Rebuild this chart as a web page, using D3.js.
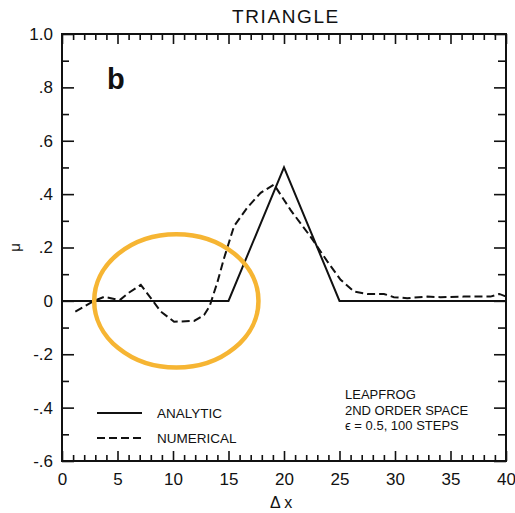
<!DOCTYPE html>
<html>
<head>
<meta charset="utf-8">
<style>
body { margin: 0; background: #fff; }
text { font-family: "Liberation Sans", Arial, sans-serif; fill: #111; }
</style>
</head>
<body></body>

<script src="https://d3js.org/d3.v7.min.js"></script>

<script>

// analytic solution (triangle)
var analyticX = [0, 15, 20, 25, 40];
var analyticY = [0, 0, 0.5, 0, 0];

// numerical solution (leapfrog)
var numericalX = [1.2, 2.9, 3.8, 4.4, 5.2, 6.0, 7.1, 7.9, 8.9, 10.1, 11.9, 12.8, 13.3, 14.0, 14.6, 15.5, 16.7, 17.9, 19.1, 20.6, 22.4, 23.9, 25.1, 26.3, 27.5, 29.0, 29.9, 31.1, 32.9, 34.1, 36.2, 38.6, 39.4, 40];
var numericalY = [-0.04, 0.0, 0.015, 0.01, 0.003, 0.03, 0.06, 0.016, -0.04, -0.078, -0.075, -0.053, -0.02, 0.07, 0.16, 0.28, 0.35, 0.405, 0.436, 0.34, 0.24, 0.148, 0.079, 0.035, 0.026, 0.026, 0.014, 0.01, 0.016, 0.014, 0.016, 0.016, 0.026, 0.016];

var xTickValues = [0, 5, 10, 15, 20, 25, 30, 35, 40];
var xTickLabels = ["0", "5", "10", "15", "20", "25", "30", "35", "40"];
var yTickValues = [-0.6, -0.4, -0.2, 0, 0.2, 0.4, 0.6, 0.8, 1.0];
var yTickLabels = ["-.6", "-.4", "-.2", "0", ".2", ".4", ".6", ".8", "1.0"];

var legendLabels = ["ANALYTIC", "NUMERICAL"];
var noteLines = ["LEAPFROG", "2ND ORDER SPACE", "\u03F5 = 0.5, 100 STEPS"];

// highlighted region (data units): centre x, centre y, half width, half height
var circleMark = [10.3, 0.0, 7.4, 0.25];

var margin = {top: 34, right: 9, bottom: 52, left: 62}
	, width = 515 - margin.left - margin.right
	, height = 513 - margin.top - margin.bottom;

var xScale = d3.scaleLinear().domain([0, 40]).range([0, width]);
var yScale = d3.scaleLinear().domain([-0.6, 1.0]).range([height, 0]);

var svg = d3.select("body").append("svg")
	.attr("width", 515)
	.attr("height", 513)
  .append("g")
	.attr("transform", "translate(" + margin.left + "," + margin.top + ")");

var xMinor = d3.range(0, 41).filter(d => d % 5 != 0);
var yMinor = [-0.5, -0.3, -0.1, 0.1, 0.3, 0.5, 0.7, 0.9];

function styleAxis(g) {
	g.select(".domain").remove();
	g.selectAll("line").attr("stroke", "#111").attr("stroke-width", 1.6);
	g.selectAll("text").attr("font-size", 17).attr("font-family", "Liberation Sans, Arial, sans-serif").attr("fill", "#111");
}

// bottom
svg.append("g").attr("transform", "translate(0," + height + ")")
	.call(d3.axisBottom(xScale).tickValues(xTickValues).tickSize(-10).tickPadding(12)
		.tickFormat((d, i) => xTickLabels[i]))
	.call(styleAxis);
svg.append("g").attr("transform", "translate(0," + height + ")")
	.call(d3.axisBottom(xScale).tickValues(xMinor).tickSize(-6).tickFormat(""))
	.call(styleAxis);

// top
svg.append("g")
	.call(d3.axisTop(xScale).tickValues(xTickValues).tickSize(-10).tickFormat(""))
	.call(styleAxis);
svg.append("g")
	.call(d3.axisTop(xScale).tickValues(xMinor).tickSize(-6).tickFormat(""))
	.call(styleAxis);

// left
svg.append("g")
	.call(d3.axisLeft(yScale).tickValues(yTickValues).tickSize(-12).tickPadding(9)
		.tickFormat((d, i) => yTickLabels[i]))
	.call(styleAxis);
svg.append("g")
	.call(d3.axisLeft(yScale).tickValues(yMinor).tickSize(-7).tickFormat(""))
	.call(styleAxis);

// right
svg.append("g").attr("transform", "translate(" + width + ",0)")
	.call(d3.axisRight(yScale).tickValues(yTickValues).tickSize(-12).tickFormat(""))
	.call(styleAxis);
svg.append("g").attr("transform", "translate(" + width + ",0)")
	.call(d3.axisRight(yScale).tickValues(yMinor).tickSize(-8).tickFormat(""))
	.call(styleAxis);

// frame
svg.append("rect")
	.attr("x", 0).attr("y", 0)
	.attr("width", width).attr("height", height)
	.attr("fill", "none")
	.attr("stroke", "#111")
	.attr("stroke-width", 2);

var line = d3.line()
	.x(d => xScale(d[0]))
	.y(d => yScale(d[1]));

svg.append("path")
	.datum(analyticX.map((x, i) => [x, analyticY[i]]))
	.attr("fill", "none")
	.attr("stroke", "#111")
	.attr("stroke-width", 2)
	.attr("d", line);

svg.append("path")
	.datum(numericalX.map((x, i) => [x, numericalY[i]]))
	.attr("fill", "none")
	.attr("stroke", "#111")
	.attr("stroke-width", 2)
	.attr("stroke-dasharray", "8,4")
	.attr("d", line);

// legend
svg.append("g").selectAll("line")
	.data(legendLabels)
  .enter().append("line")
	.attr("x1", 35).attr("x2", 80)
	.attr("y1", (d, i) => 379 + i * 25)
	.attr("y2", (d, i) => 379 + i * 25)
	.attr("stroke", "#111")
	.attr("stroke-width", 2)
	.attr("stroke-dasharray", (d, i) => i ? "8,4" : null);

svg.append("g").selectAll("text")
	.data(legendLabels)
  .enter().append("text")
	.attr("x", 95)
	.attr("y", (d, i) => 384 + i * 25)
	.attr("font-size", 13.5)
	.text(d => d);

// run notes
svg.append("g").selectAll("text")
	.data(noteLines)
  .enter().append("text")
	.attr("x", 283)
	.attr("y", (d, i) => 365 + i * 15.5)
	.attr("font-size", 13)
	.text(d => d);

// panel letter
svg.append("text")
	.attr("x", 45)
	.attr("y", 55)
	.attr("font-size", 29)
	.attr("font-weight", "bold")
	.text("b");

// title
svg.append("text")
	.attr("x", width / 2 + 2)
	.attr("y", -11)
	.attr("text-anchor", "middle")
	.attr("font-size", 19)
	.attr("letter-spacing", 1.6)
	.text("TRIANGLE");

// axis titles
svg.append("text")
	.attr("x", 208)
	.attr("y", height + 47)
	.attr("font-size", 16)
	.text("\u0394 x");

svg.append("text")
	.attr("transform", "translate(-42," + yScale(0.2) + ") rotate(-90)")
	.attr("text-anchor", "middle")
	.attr("font-size", 15)
	.text("\u03BC");

// highlight ellipse
svg.append("ellipse")
	.attr("cx", xScale(circleMark[0]))
	.attr("cy", yScale(circleMark[1]))
	.attr("rx", xScale(circleMark[2]) - xScale(0))
	.attr("ry", yScale(0) - yScale(circleMark[3]))
	.attr("fill", "none")
	.attr("stroke", "#F6B533")
	.attr("stroke-width", 4.5);

</script>

</html>
